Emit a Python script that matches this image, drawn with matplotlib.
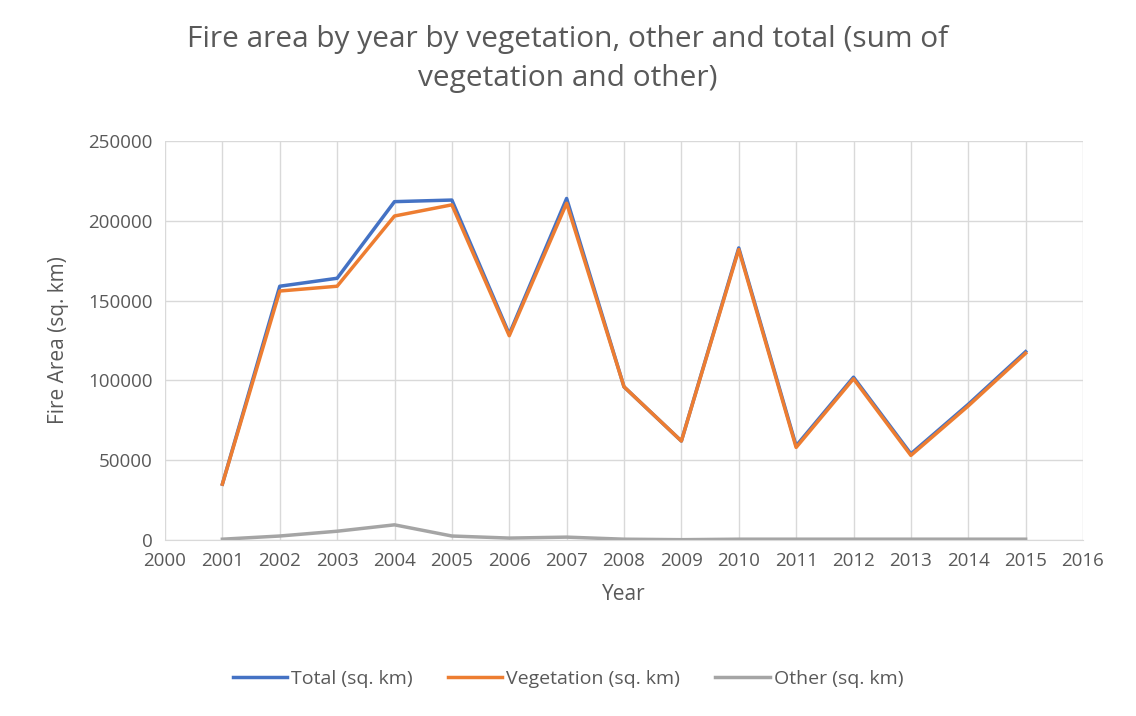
import matplotlib
matplotlib.use('Agg')
import matplotlib.pyplot as plt

plt.rcParams['font.family'] = ['Open Sans', 'DejaVu Sans']

years = [2001, 2002, 2003, 2004, 2005, 2006, 2007, 2008, 2009, 2010, 2011, 2012, 2013, 2014, 2015]
total = [35000, 159000, 164000, 212000, 213000, 129000, 214000, 96000, 62000, 183000, 59000, 102000, 54000, 85000, 118000]
vegetation = [35000, 156000, 159000, 203000, 210000, 128000, 211000, 96000, 62000, 182000, 58000, 101000, 53000, 84000, 117000]
other = [500, 2500, 5500, 9500, 2500, 1200, 1800, 500, 200, 500, 500, 500, 500, 500, 500]

txt = '#595959'
fig = plt.figure(figsize=(11.36, 7.16), dpi=100)
ax = fig.add_axes([165/1136, 1 - 540/716, (1083-165)/1136, (540-141)/716])

ax.plot(years, total, color='#4472C4', lw=2.5, label='Total (sq. km)')
ax.plot(years, vegetation, color='#ED7D31', lw=2.5, label='Vegetation (sq. km)')
ax.plot(years, other, color='#A5A5A5', lw=2.5, label='Other (sq. km)')

ax.set_xlim(2000, 2016)
ax.set_ylim(0, 250000)
ax.set_xticks(range(2000, 2017))
ax.set_yticks(range(0, 250001, 50000))
ax.grid(color='#D9D9D9', lw=1)
ax.set_axisbelow(True)
for s in ['top', 'right', 'left']:
    ax.spines[s].set_visible(False)
ax.spines['bottom'].set_color('#D9D9D9')
ax.tick_params(length=0, colors=txt, labelsize=13.5, pad=9)

ax.set_xlabel('Year', color=txt, fontsize=15, labelpad=10)
ax.set_ylabel('Fire Area (sq. km)', color=txt, fontsize=15, labelpad=14)
fig.suptitle('Fire area by year by vegetation, other and total (sum of\nvegetation and other)',
             color=txt, fontsize=21.5, x=0.5, y=0.965, linespacing=1.45)

fig.legend(loc='lower center', ncol=3, frameon=False, fontsize=14,
           bbox_to_anchor=(0.5, 0.015), labelcolor=txt, handlelength=2.8,
           handletextpad=0.2, columnspacing=1.8)

fig.savefig('out.png', dpi=100)
